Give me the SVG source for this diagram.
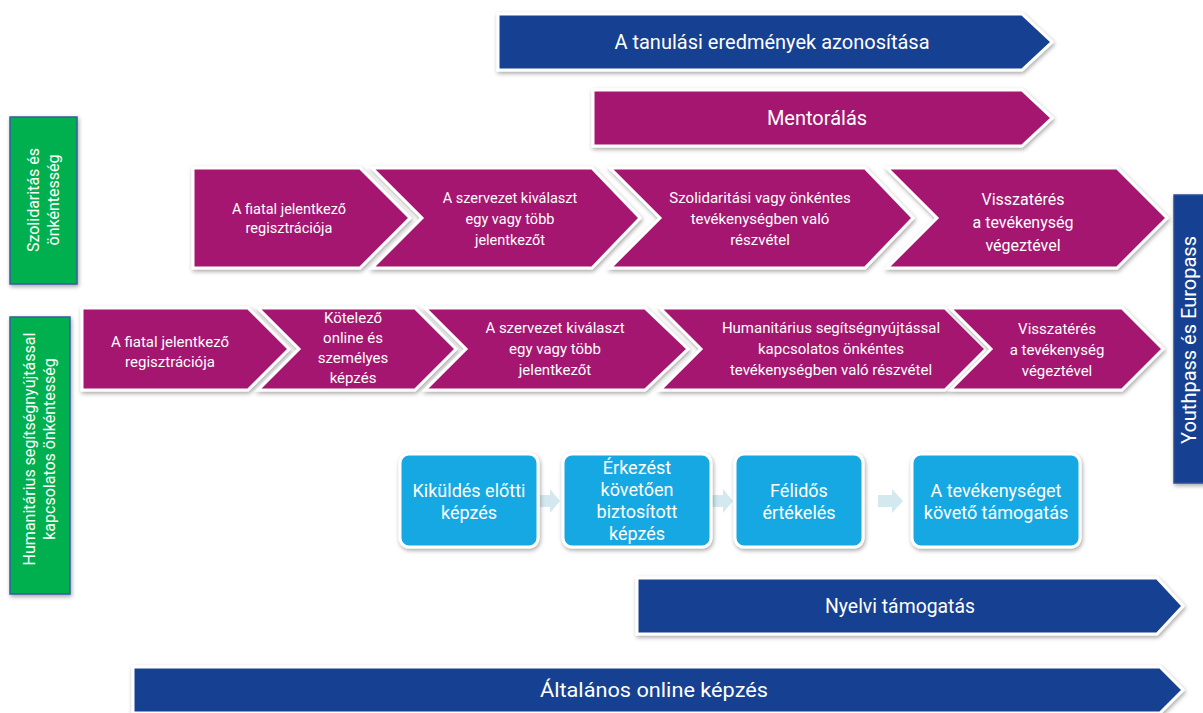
<svg xmlns="http://www.w3.org/2000/svg" width="1203" height="713" viewBox="0 0 1203 713">
<defs>
<filter id="sh" x="-10%" y="-20%" width="120%" height="150%">
<feDropShadow dx="1" dy="2" stdDeviation="2" flood-color="#000" flood-opacity="0.35"/>
</filter>
<style>
.mag{fill:#a5166f;stroke:#fff;stroke-width:3;stroke-linejoin:miter;filter:url(#sh)}
.blu{fill:#163f91;stroke:#fff;stroke-width:3;filter:url(#sh)}
.lb{fill:#17a8e2;stroke:#fff;stroke-width:3;filter:url(#sh)}
.grn{fill:#00b050;stroke:#3a5aa0;stroke-width:1.5;filter:url(#sh)}
.side{fill:#163f91;stroke:#2c4f98;stroke-width:1.5;filter:url(#sh)}
.t{font-family:Roboto,"Noto Sans",sans-serif;fill:#fff;text-anchor:middle}
.s14{font-size:14.5px}
.s15{font-size:15px}
.s16{font-size:16px}
.s18{font-size:18px}
.s20{font-size:20px}
.ar{fill:#d3e9ef}
</style>
</defs>
<rect width="1203" height="713" fill="#fff"/>

<g id="arrow-tanulasi">
<polygon class="blu" points="498,14 1022,14 1052,42 1022,70 498,70"/>
<text class="t s20" x="772" y="49">A tanulási eredmények azonosítása</text>
</g>
<g id="arrow-mentoralas">
<polygon class="mag" points="593,90 1022,90 1052,118 1022,146 593,146"/>
<text class="t s20" x="817" y="125">Mentorálás</text>
</g>

<g id="label-szolidaritas">
<rect class="grn" x="10" y="117" width="67" height="167"/>
<text class="t s16" transform="translate(43,200) rotate(-90)"><tspan x="0" y="-4">Szolidaritás és</tspan><tspan x="0" y="16">önkéntesség</tspan></text>
</g>
<g id="label-humanitarius">
<rect class="grn" x="10" y="317" width="60" height="277"/>
<text class="t s16" transform="translate(40,449) rotate(-90)"><tspan x="0" y="-5">Humanitárius segítségnyújtással</tspan><tspan x="0" y="15">kapcsolatos önkéntesség</tspan></text>
</g>
<g id="label-youthpass">
<rect class="side" x="1174" y="195" width="32" height="288"/>
<text class="t s20" transform="translate(1196,340) rotate(-90)" x="0" y="0">Youthpass és Europass</text>
</g>

<g id="r1-c1">
<polygon class="mag" points="193,168 360,168 410,218 360,268 193,268"/>
<text class="t s14"><tspan x="289" y="214">A fiatal jelentkező</tspan><tspan x="289" y="233">regisztrációja</tspan></text>
</g>
<g id="r1-c2">
<polygon class="mag" points="372,168 592,168 640,218 592,268 372,268 422,218"/>
<text class="t s14"><tspan x="510" y="203">A szervezet kiválaszt</tspan><tspan x="510" y="224">egy vagy több</tspan><tspan x="510" y="245">jelentkezőt</tspan></text>
</g>
<g id="r1-c3">
<polygon class="mag" points="610,168 865,168 913,218 865,268 610,268 660,218"/>
<text class="t s15"><tspan x="760" y="203">Szolidaritási vagy önkéntes</tspan><tspan x="760" y="224">tevékenységben való</tspan><tspan x="760" y="245">részvétel</tspan></text>
</g>
<g id="r1-c4">
<polygon class="mag" points="887,168 1117,168 1167,218 1117,268 887,268 937,218"/>
<text class="t s16"><tspan x="1023" y="205">Visszatérés</tspan><tspan x="1023" y="228">a tevékenység</tspan><tspan x="1023" y="251">végeztével</tspan></text>
</g>

<g id="r2-c1">
<polygon class="mag" points="82,308 248,308 289,349 248,390 82,390"/>
<text class="t s15"><tspan x="170" y="347">A fiatal jelentkező</tspan><tspan x="170" y="367">regisztrációja</tspan></text>
</g>
<g id="r2-c2">
<polygon class="mag" points="258,308 415,308 456,349 415,390 258,390 299,349"/>
<text class="t s15"><tspan x="353" y="323">Kötelező</tspan><tspan x="353" y="343">online és</tspan><tspan x="353" y="363">személyes</tspan><tspan x="353" y="383">képzés</tspan></text>
</g>
<g id="r2-c3">
<polygon class="mag" points="425,308 645,308 688,349 645,390 425,390 466,349"/>
<text class="t s15"><tspan x="555" y="333">A szervezet kiválaszt</tspan><tspan x="555" y="354">egy vagy több</tspan><tspan x="555" y="375">jelentkezőt</tspan></text>
</g>
<g id="r2-c4">
<polygon class="mag" points="660,308 945,308 986,349 945,390 660,390 701,349"/>
<text class="t s15"><tspan x="831" y="333">Humanitárius segítségnyújtással</tspan><tspan x="831" y="354">kapcsolatos önkéntes</tspan><tspan x="831" y="375">tevékenységben való részvétel</tspan></text>
</g>
<g id="r2-c5">
<polygon class="mag" points="950,308 1122,308 1163,349 1122,390 950,390 991,349"/>
<text class="t s15"><tspan x="1057" y="334">Visszatérés</tspan><tspan x="1057" y="355">a tevékenység</tspan><tspan x="1057" y="376">végeztével</tspan></text>
</g>

<g id="connectors">
<polygon class="ar" points="540,495 550,495 550,489 560,501 550,513 550,507 540,507"/>
<polygon class="ar" points="712,495 723,495 723,489 733,501 723,513 723,507 712,507"/>
<polygon class="ar" points="878,495 892,495 892,489 903,501 892,513 892,507 878,507"/>
</g>

<g id="box-kikuldes">
<rect class="lb" x="400" y="454" width="138" height="93" rx="9"/>
<text class="t s18"><tspan x="469" y="497">Kiküldés előtti</tspan><tspan x="469" y="519">képzés</tspan></text>
</g>
<g id="box-erkezest">
<rect class="lb" x="563" y="454" width="148" height="93" rx="9"/>
<text class="t s18"><tspan x="637" y="474">Érkezést</tspan><tspan x="637" y="496">követően</tspan><tspan x="637" y="518">biztosított</tspan><tspan x="637" y="540">képzés</tspan></text>
</g>
<g id="box-felidos">
<rect class="lb" x="735" y="454" width="128" height="93" rx="9"/>
<text class="t s18"><tspan x="799" y="497">Félidős</tspan><tspan x="799" y="519">értékelés</tspan></text>
</g>
<g id="box-tamogatas">
<rect class="lb" x="912" y="454" width="168" height="93" rx="9"/>
<text class="t s18"><tspan x="996" y="497">A tevékenységet</tspan><tspan x="996" y="519">követő támogatás</tspan></text>
</g>

<g id="arrow-nyelvi">
<polygon class="blu" points="637,578 1157,578 1183,606 1157,634 637,634"/>
<text class="t s20" x="900" y="613" textLength="150" lengthAdjust="spacingAndGlyphs">Nyelvi támogatás</text>
</g>
<g id="arrow-altalanos">
<polygon class="blu" points="133,667 1160,667 1183,690 1160,713 133,713"/>
<text class="t s20" x="654" y="697" textLength="228" lengthAdjust="spacingAndGlyphs">Általános online képzés</text>
</g>
</svg>
